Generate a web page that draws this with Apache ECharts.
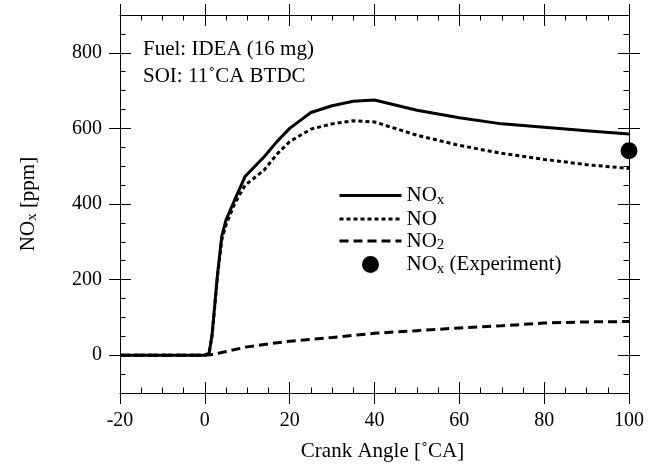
<!DOCTYPE html>
<html><head><meta charset="utf-8">
<script src="https://cdn.jsdelivr.net/npm/echarts@6/dist/echarts.min.js"></script>
<style>html,body{margin:0;padding:0;background:#fff}#c{width:662px;height:467px}</style>
</head><body><div id="c"></div>
<script>
// ---- data ----
const xTicks = [-20, 0, 20, 40, 60, 80, 100];
const yTicks = [0, 200, 400, 600, 800];

const noxAngle = [-20, 0, 1, 1.7, 3, 4, 5, 7, 9.5, 14, 17, 20, 25, 30, 35, 40, 50, 60, 70, 80, 90, 100];
const noxPpm   = [0, 0, 5, 54, 215, 315, 358, 410, 473, 525, 565, 600, 642, 660, 672, 675, 648, 628, 612, 603, 594, 585];

const noAngle  = [-20, 0, 1, 1.7, 3, 4, 5, 7, 9.5, 12, 14, 17, 20, 25, 30, 35, 40, 50, 60, 70, 80, 90, 100];
const noPpm    = [0, 0, 5, 50, 210, 305, 345, 400, 450, 472, 490, 532, 565, 598, 612, 620, 617, 582, 555, 534, 518, 504, 494];

const no2Angle = [-20, 0, 2, 5, 10, 15, 20, 25, 30, 40, 50, 60, 70, 80, 90, 100];
const no2Ppm   = [0, 0, 2, 10, 22, 30, 37, 42, 47, 58, 65, 72, 78, 85, 88, 89];

const expAngle = [100];
const expPpm   = [541];

const seriesNames = ['NOx', 'NO', 'NO2', 'NOx (Experiment)'];
const legendLabels = {
  'NOx': '{m|NO}{s|x}',
  'NO': '{m|NO}',
  'NO2': '{m|NO}{s|2}',
  'NOx (Experiment)': '{m|NO}{s|x}{m| (Experiment)}'
};
const noteLines = ['Fuel: IDEA (16 mg)', 'SOI: 11˚CA BTDC'];
const xName = 'Crank Angle [˚CA]';
const yName = '{m|NO}{s|x}{m| [ppm]}';

// ---- build ----
const F = 'Liberation Serif';
const pair = (a, b) => a.map((v, i) => [v, b[i]]);
const black = '#000';
const richSub = {
  m: { fontFamily: F, fontSize: 21, color: black, lineHeight: 24, verticalAlign: 'middle' },
  s: { fontFamily: F, fontSize: 15, color: black, lineHeight: 8, verticalAlign: 'bottom' }
};

function xAx(position, mode) {
  return {
    type: 'value', position, min: -20, max: 100, interval: 20,
    splitLine: { show: false },
    axisLine: { show: mode === 'main', onZero: false, lineStyle: { color: black, width: 1 } },
    axisTick: { show: true, inside: mode !== 'main', length: 11, customValues: xTicks, lineStyle: { color: black, width: 1 } },
    axisLabel: { show: false },
    minorTick: { show: mode === 'in', splitNumber: 4, length: 5.5, lineStyle: { color: black, width: 1 } }
  };
}
function yAx(position, mode) {
  const a = {
    type: 'value', position, min: -100, max: 900, interval: 50,
    splitLine: { show: false },
    axisLine: { show: mode === 'main', onZero: false, lineStyle: { color: black, width: 1 } },
    axisTick: { show: true, inside: mode !== 'main', length: mode === 'minor' ? 5.5 : 11, lineStyle: { color: black, width: 1 } },
    axisLabel: { show: false }
  };
  if (mode !== 'minor') a.axisTick.customValues = yTicks;
  return a;
}

const xAxes = [xAx('bottom', 'main'), xAx('bottom', 'in'), xAx('top', 'main'), xAx('top', 'in')];
xAxes[0].axisLabel = { show: true, customValues: xTicks, margin: 18, fontFamily: F, fontSize: 20, color: black };
xAxes[0].name = xName;
xAxes[0].nameLocation = 'middle';
xAxes[0].nameGap = 48;
xAxes[0].nameTextStyle = { fontFamily: F, fontSize: 21, color: black, padding: [0, 0, 0, 16] };

const yAxes = [yAx('left', 'main'), yAx('left', 'in'), yAx('left', 'minor'), yAx('right', 'main'), yAx('right', 'in'), yAx('right', 'minor')];
yAxes[0].axisLabel = { show: true, customValues: yTicks, margin: 18, fontFamily: F, fontSize: 20, color: black };
yAxes[0].name = yName;
yAxes[0].nameLocation = 'middle';
yAxes[0].nameGap = 80;
yAxes[0].nameRotate = 90;
yAxes[0].nameTextStyle = { rich: richSub };

const legendData = seriesNames.map((n, i) => i < 3 ? { name: n, itemStyle: { opacity: 0 } } : { name: n });

const chart = echarts.init(document.getElementById('c'), null, { renderer: 'canvas' });
chart.setOption({
  animation: false,
  backgroundColor: '#fff',
  grid: { left: 120, right: 33, top: 15, bottom: 72, containLabel: false },
  xAxis: xAxes,
  yAxis: yAxes,
  legend: {
    orient: 'vertical', left: 338, top: 185, padding: 0,
    itemWidth: 62, itemHeight: 17, itemGap: 1,
    data: legendData,
    formatter: n => legendLabels[n],
    lineStyle: { width: 3 },
    textStyle: { fontFamily: F, fontSize: 21, color: black, rich: richSub },
    selectedMode: false
  },
  graphic: [
    { type: 'text', left: 143, top: 39, style: { text: noteLines[0], font: '21px "Liberation Serif"', fill: black } },
    { type: 'text', left: 143, top: 66, style: { text: noteLines[1], font: '21px "Liberation Serif"', fill: black } }
  ],
  series: [
    { name: seriesNames[0], type: 'line', data: pair(noxAngle, noxPpm), symbol: 'none', lineStyle: { color: black, width: 3, type: 'solid' }, itemStyle: { color: black }, z: 3 },
    { name: seriesNames[1], type: 'line', data: pair(noAngle, noPpm), symbol: 'none', lineStyle: { color: black, width: 3, type: [4, 3] }, itemStyle: { color: black }, z: 4 },
    { name: seriesNames[2], type: 'line', data: pair(no2Angle, no2Ppm), symbol: 'none', lineStyle: { color: black, width: 3, type: [9, 5] }, itemStyle: { color: black }, z: 4 },
    { name: seriesNames[3], type: 'scatter', data: pair(expAngle, expPpm), symbol: 'circle', symbolSize: 17, itemStyle: { color: black, opacity: 1 }, z: 5 }
  ]
});
</script>
</body></html>
